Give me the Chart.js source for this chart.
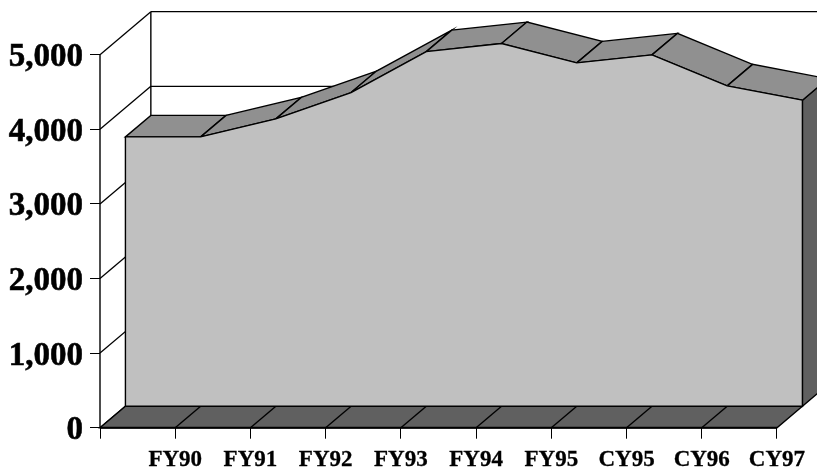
<!DOCTYPE html>
<html>
<head>
<meta charset="utf-8">
<style>html,body{margin:0;padding:0;background:#fff}canvas{display:block}</style>
<script src="https://cdn.jsdelivr.net/npm/chart.js@4"></script>
</head>
<body>
<canvas id="c" width="817" height="473"></canvas>
<script>
const categories = ['', 'FY90', 'FY91', 'FY92', 'FY93', 'FY94', 'FY95', 'CY95', 'CY96', 'CY97'];
const seriesValues = [3610, 3610, 3851, 4204, 4753, 4861, 4602, 4709, 4294, 4102];
const yTicks = [0, 1000, 2000, 3000, 4000, 5000];

// pseudo-3D depth, one step, in axis units
const DEPTH_X = 0.338;
const DEPTH_Y = 288;
const X_MAX = 9.532;
const Y_MAX = 5576;
const TOP = '#909090', DARK = '#606060', FACE = '#c0c0c0';

function poly(ctx, pts, fill, lw) {
  ctx.beginPath();
  pts.forEach((p, i) => i ? ctx.lineTo(p[0], p[1]) : ctx.moveTo(p[0], p[1]));
  ctx.closePath();
  if (fill) { ctx.fillStyle = fill; ctx.fill(); }
  if (lw) { ctx.lineWidth = lw; ctx.strokeStyle = '#000'; ctx.stroke(); }
}
function seg(ctx, a, b, lw) {
  ctx.beginPath(); ctx.moveTo(a[0], a[1]); ctx.lineTo(b[0], b[1]);
  ctx.lineWidth = lw; ctx.strokeStyle = '#000'; ctx.stroke();
}

const depthPlugin = {
  id: 'depth',
  beforeDatasetsDraw(chart) {
    const { ctx, scales: { x, y } } = chart;
    const P = (i, v, d) => [x.getPixelForValue(i + d * DEPTH_X), y.getPixelForValue(v + d * DEPTH_Y)];
    const n = seriesValues.length - 1;
    const yMax = yTicks[yTicks.length - 1];
    ctx.save();
    // walls and grid
    seg(ctx, P(0, 0, 0), P(0, yMax, 0), 1.4);
    seg(ctx, P(0, 0, 2), P(0, yMax, 2), 1.4);
    yTicks.forEach(v => {
      seg(ctx, P(0, v, 0), P(0, v, 2), 1.3);
      if (v) seg(ctx, P(0, v, 2), P(n, v, 2), 1.3);
    });
    // floor
    poly(ctx, [P(0, 0, 0), P(n, 0, 0), P(n, 0, 1), P(0, 0, 1)], DARK, 1.4);
    for (let i = 1; i < n; i++) seg(ctx, P(i, 0, 0), P(i, 0, 1), 1.4);
    seg(ctx, P(0, 0, 0), P(n, 0, 0), 2);
    // right side
    poly(ctx, [P(n, 0, 1), P(n, seriesValues[n], 1), P(n, seriesValues[n], 2), P(n, 0, 2)], DARK, 1.4);
    // top ribbon
    for (let i = 0; i < n; i++) {
      const a = seriesValues[i], b = seriesValues[i + 1];
      poly(ctx, [P(i, a, 1), P(i + 1, b, 1), P(i + 1, b, 2), P(i, a, 2)], TOP, 1.4);
    }
    ctx.restore();
  },
  afterDatasetsDraw(chart) {
    const { ctx, scales: { x, y } } = chart;
    const P = (i, v) => [x.getPixelForValue(i + DEPTH_X), y.getPixelForValue(v + DEPTH_Y)];
    const n = seriesValues.length - 1;
    ctx.save();
    seg(ctx, P(0, seriesValues[0]), P(0, 0), 1.4);
    seg(ctx, P(n, seriesValues[n]), P(n, 0), 1.4);
    seg(ctx, P(0, 0), P(n, 0), 1.4);
    ctx.restore();
  }
};

const labelFont = { family: '"Liberation Serif"', weight: 'bold' };

new Chart(document.getElementById('c'), {
  type: 'line',
  plugins: [depthPlugin],
  data: {
    datasets: [{
      label: 'Series',
      data: seriesValues.map((v, i) => ({ x: i, y: v })),
      xAxisID: 'xFront',
      yAxisID: 'yFront',
      borderColor: '#000',
      borderWidth: 1.4,
      backgroundColor: FACE,
      fill: 'origin',
      tension: 0,
      pointRadius: 0,
      clip: false
    }]
  },
  options: {
    responsive: false,
    animation: false,
    layout: { padding: { top: 11.7, left: 0, right: 0, bottom: 0 } },
    plugins: { legend: { display: false }, title: { display: false }, tooltip: { enabled: false } },
    scales: {
      x: {
        type: 'linear', min: 0, max: X_MAX,
        afterFit: s => { s.height = 45.3; s.paddingLeft = 0; s.paddingRight = 0; },
        border: { display: false },
        grid: { drawOnChartArea: false, drawTicks: true, tickLength: 11, color: '#000', lineWidth: 1 },
        ticks: {
          stepSize: 1, includeBounds: false, autoSkip: false, maxRotation: 0, padding: 8,
          color: '#000', font: { ...labelFont, size: 23 },
          textStrokeColor: '#000', textStrokeWidth: 0.3,
          callback: v => categories[v]
        }
      },
      y: {
        type: 'linear', min: 0, max: Y_MAX,
        afterFit: s => { s.width = 100; s.paddingTop = 0; s.paddingBottom = 0; },
        border: { display: false },
        grid: { drawOnChartArea: false, drawTicks: true, tickLength: 10, color: '#000', lineWidth: 1 },
        afterBuildTicks: s => { s.ticks = yTicks.map(value => ({ value })); },
        ticks: {
          includeBounds: false, padding: 7, labelOffset: 3, color: '#000', font: { ...labelFont, size: 33 },
          textStrokeColor: '#000', textStrokeWidth: 0.6,
          callback: v => v.toLocaleString('en-US')
        }
      },
      xFront: { type: 'linear', display: false, min: -DEPTH_X, max: X_MAX - DEPTH_X },
      yFront: { type: 'linear', display: false, min: -DEPTH_Y, max: Y_MAX - DEPTH_Y }
    }
  }
});
</script>
</body>
</html>
